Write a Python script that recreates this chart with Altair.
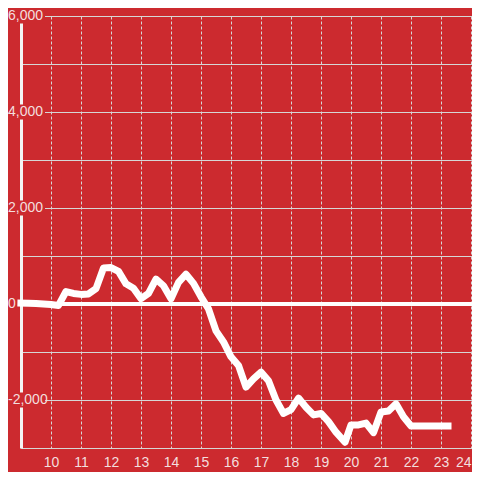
import altair as alt
import pandas as pd

hours = [8.88, 9.25, 9.5, 9.75, 10.0, 10.25, 10.5, 10.75, 11.0, 11.25, 11.5, 11.75,
         12.0, 12.25, 12.5, 12.75, 13.0, 13.25, 13.5, 13.75, 14.0, 14.25, 14.5, 14.75,
         15.0, 15.25, 15.5, 15.75, 16.0, 16.25, 16.5, 16.75, 17.0, 17.25, 17.5, 17.75,
         18.0, 18.25, 18.5, 18.75, 19.0, 19.25, 19.5, 19.8, 20.0, 20.25, 20.5, 20.75,
         21.0, 21.25, 21.5, 21.75, 22.0, 22.25, 22.5, 22.75, 23.0, 23.35]
values = [20, 15, 10, 0, -10, -30, 260, 220, 200, 210, 320, 750,
          760, 680, 420, 330, 110, 220, 520, 380, 110, 450, 620, 430,
          150, -100, -560, -790, -1100, -1280, -1730, -1560, -1420, -1600, -2000, -2280,
          -2200, -1960, -2150, -2310, -2280, -2450, -2670, -2880, -2520, -2520, -2480, -2680,
          -2250, -2230, -2080, -2350, -2540, -2540, -2540, -2540, -2540, -2540]

x_ticks = [10, 11, 12, 13, 14, 15, 16, 17, 18, 19, 20, 21, 22, 23, 24]
y_grid = [-3000, -2000, -1000, 0, 1000, 2000, 3000, 4000, 5000, 6000]
y_label_values = [6000, 4000, 2000, 0, -2000]
y_label_texts = ["6,000", "4,000", "2,000", "0", "-2,000"]

BG = "#cc2a2f"
LABEL = "#f3dede"
GRID = "#d6d6d6"
FONT = "Liberation Sans"

df = pd.DataFrame({"hour": hours, "value": values})
labels_df = pd.DataFrame({"v": y_label_values, "label": y_label_texts})

xscale = alt.Scale(domain=[9, 24.033], nice=False, zero=False)
yscale = alt.Scale(domain=[-3000, 6000], nice=False, zero=False)

x_axis = alt.Axis(values=x_ticks, grid=True, gridDash=[3, 2], gridColor=GRID, gridWidth=1,
                  ticks=False, domain=True, domainColor=GRID, domainWidth=1,
                  labelColor=LABEL, labelFont=FONT, labelFontSize=14, labelPadding=7,
                  title=None, labelFlush=3)
y_axis = alt.Axis(values=y_grid, grid=True, gridColor=GRID, gridWidth=1,
                  ticks=False, domain=True, domainColor="#f4f4f4", domainWidth=3,
                  labels=False, title=None)

line = alt.Chart(df).mark_line(color="white", strokeWidth=7, strokeJoin="round",
                               strokeCap="butt").encode(
    x=alt.X("hour:Q", scale=xscale, axis=x_axis),
    y=alt.Y("value:Q", scale=yscale, axis=y_axis),
)

zero = alt.Chart(df).mark_rule(color="white", strokeWidth=3).encode(y=alt.datum(0))

boxes = alt.Chart(labels_df).transform_filter("datum.v != 0").mark_rule(
    color=BG, strokeWidth=15, strokeCap="butt").encode(
    y=alt.Y("v:Q", scale=yscale),
    x=alt.value(-13), x2=alt.value(24),
)

texts = alt.Chart(labels_df).mark_text(
    align="left", baseline="middle", font=FONT, fontSize=14, color=LABEL).encode(
    y=alt.Y("v:Q", scale=yscale), x=alt.value(-13), text="label:N")

chart = alt.layer(zero, line, boxes, texts).properties(
    width=451, height=432,
    autosize=alt.AutoSizeParams(type="none"),
    padding={"left": 13, "top": 8, "right": 0, "bottom": 24},
    background=BG,
    usermeta={"embedOptions": {"defaultStyle": "html,body{background:%s}" % BG}},
).configure_view(stroke=None)

chart.save("out.html", embed_options={"renderer": "svg", "actions": False})
